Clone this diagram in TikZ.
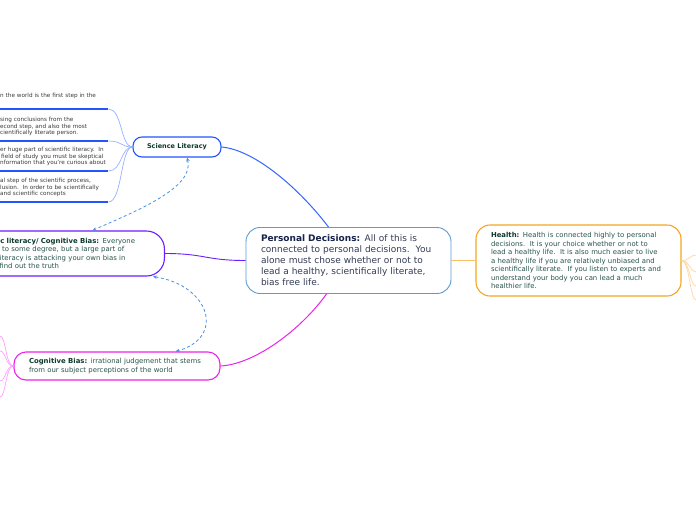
\documentclass[tikz,border=0pt]{standalone}
\usepackage{fontspec}
\setmainfont{DejaVu Sans}
\usetikzlibrary{arrows.meta}
\definecolor{pdblue}{RGB}{90,155,213}
\definecolor{pdink}{RGB}{52,60,84}
\definecolor{pdtitle}{RGB}{22,34,74}
\definecolor{slblue}{RGB}{34,85,255}
\definecolor{slwire}{RGB}{51,102,255}
\definecolor{leafwire}{RGB}{150,178,255}
\definecolor{leafink}{RGB}{58,58,58}
\definecolor{biasviolet}{RGB}{108,30,255}
\definecolor{cbmagenta}{RGB}{236,34,236}
\definecolor{cbwire}{RGB}{255,160,255}
\definecolor{healthorange}{RGB}{245,166,35}
\definecolor{healthwire}{RGB}{255,214,160}
\definecolor{relblue}{RGB}{74,144,226}
\definecolor{titleink}{RGB}{12,58,44}
\definecolor{bodyink}{RGB}{40,84,76}
\tikzset{
  pdbox/.style={draw=pdblue, line width=0.9pt, rounded corners=14pt, fill=white,
    text width=175pt, inner xsep=15pt, minimum height=66pt, align=left,
    text=pdink, font=\fontsize{9}{11}\selectfont},
  topicbox/.style={draw=#1, line width=1.1pt, fill=white, align=left,
    text=bodyink, font=\fontsize{6.9}{8.6}\selectfont},
  leaf/.style={text width=108pt, inner xsep=0pt, inner ysep=5pt, align=left,
    text=leafink, font=\fontsize{5.7}{6.5}\selectfont},
  leafrule/.style={draw=slblue, line width=1.2pt},
  leafwire/.style={draw=leafwire, line width=0.7pt},
  rel/.style={draw=relblue, line width=0.8pt, dash pattern=on 3pt off 2.5pt,
    {Stealth[length=4pt,width=3.5pt]}-{Stealth[length=4pt,width=3.5pt]}}
}
\begin{document}
\begin{tikzpicture}[x=1pt, y=-1pt]
  \useasboundingbox (0,0) rectangle (696,520);
  \fill[white] (0,0) rectangle (696,520);
  \clip (0,0) rectangle (696,520);

  % main topics
  \node[pdbox] (pd) at (348.5,260.5) {\textbf{\color{pdtitle}Personal Decisions:} All of this is\\
    connected to personal decisions.\ \ You\\
    alone must chose whether or not to\\
    lead a healthy, scientifically literate,\\
    bias free life.};
  \node[topicbox=healthorange, rounded corners=14pt, text width=175pt, inner xsep=15pt,
        minimum height=71pt, font=\fontsize{6.9}{8.5}\selectfont] (health) at (578.5,260.5)
    {\textbf{\color{titleink}Health:} Health is connected highly to personal\\
    decisions.\ \ It is your choice whether or not to\\
    lead a healthy life.\ \ It is also much easier to live\\
    a healthy life if you are relatively unbiased and\\
    scientifically literate.\ \ If you listen to experts and\\
    understand your body you can lead a much\\
    healthier life.};
  \node[topicbox=slblue, rounded corners=9pt, minimum width=88pt, minimum height=20pt,
        inner sep=0pt, text=titleink, font=\bfseries\fontsize{6.5}{8}\selectfont]
    (sl) at (177,147) {Science Literacy};
  \node[topicbox=biasviolet, rounded corners=18pt, anchor=east, text width=143pt,
        inner xsep=23.5pt, minimum height=45pt] (scb) at (165,253.5)
    {\textbf{\color{titleink}ic literacy/ Cognitive Bias:} Everyone\\
    l to some degree, but a large part of\\
    literacy is attacking your own bias in\\
    \hspace{1.5pt}find out the truth};
  \node[topicbox=cbmagenta, rounded corners=12pt, text width=176pt, inner xsep=15pt,
        minimum height=28pt] (cb) at (117,366)
    {\textbf{\color{titleink}Cognitive Bias:} irrational judgement that stems\\
    from our subject perceptions of the world};

  % science literacy leaves
  \node[leaf, anchor=south west] (obs) at (0,109) {n the world is the first step in the\\\mbox{}};
  \node[leaf, anchor=south west] (concl) at (0,141) {sing conclusions from the\\
    econd step, and also the most\\cientifically literate person.};
  \node[leaf, anchor=south west] (skep) at (0,171) {er huge part of scientific literacy.\ \ In\\
    \hspace{1pt}field of study you must be skeptical\\nformation that you're curious about};
  \node[leaf, anchor=south west] (final) at (0,202) {al step of the scientific process,\\
    lusion.\ \ In order to be scientifically\\and scientific concepts};
  \foreach \leafname in {obs,concl,skep,final} {
    \draw[leafrule] (\leafname.south west) -- (\leafname.south east);
    \draw[leafwire] (\leafname.south east) .. controls +(14,0) and +(-12,0) .. (sl.west);
  }

  % free ends at the picture's edges
  \foreach \n/\yy in {h1/255,h2/272,h3/286,h4/300} \coordinate (\n) at (696,\yy);
  \foreach \n/\yy in {c1/336,c2/351,c3/381,c4/397} \coordinate (\n) at (0,\yy);
  \foreach \n in {h1,h2,h3,h4}
    \draw[draw=healthwire, line width=0.7pt] (health.east) .. controls +(8,0) and +(-6,0) .. (\n);
  \foreach \n in {c1,c2,c3,c4}
    \draw[draw=cbwire, line width=0.7pt] (cb.west) .. controls +(-8,0) and +(6,0) .. (\n);

  % connectors
  \draw[draw=slwire, line width=1pt] (sl.east) .. controls +(34,3) and +(-28,-37) .. ([xshift=-20pt]pd.north);
  \draw[draw=biasviolet, line width=0.9pt] (scb.east) .. controls +(40,0) and +(-40,0) .. (pd.west);
  \draw[draw=cbmagenta, line width=1pt] (cb.east) .. controls +(35,-2) and +(-25,35) .. ([xshift=-22pt]pd.south);
  \draw[draw=healthorange!70, line width=0.8pt] (pd.east) -- (health.west);

  % relations
  \draw[rel] ([xshift=10pt]sl.south) .. controls +(8,30) and +(45,-20) .. ([xshift=23pt]scb.north);
  \draw[rel] ([xshift=-12pt]scb.south east) .. controls +(57,9) and +(50,-14) .. ([xshift=-45pt]cb.north east);
\end{tikzpicture}
\end{document}
